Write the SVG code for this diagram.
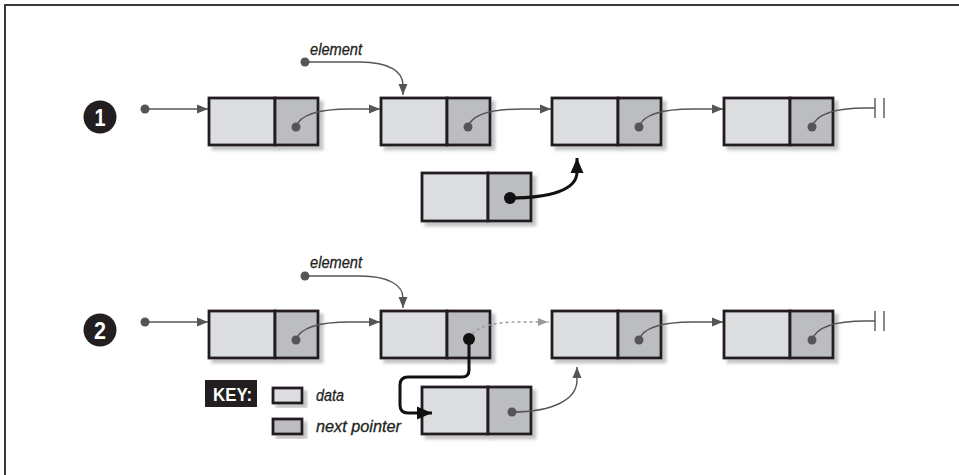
<svg xmlns="http://www.w3.org/2000/svg" width="959" height="475" viewBox="0 0 959 475">
<style>
.data{fill:#dcdddf;stroke:#231f20;stroke-width:2.8}
.ptr{fill:#bcbdc0;stroke:#231f20;stroke-width:2.8}
.frame{stroke:#3a3a3a;stroke-width:2;fill:none}
.con{fill:none;stroke:#555;stroke-width:1.4}
.dash{fill:none;stroke:#9a9a9a;stroke-width:1.4;stroke-dasharray:3 3}
.bold{fill:none;stroke:#111;stroke-width:3}
.dot{fill:#555}
.bdot{fill:#111}
.lbl{font-family:"Liberation Sans",Arial,sans-serif;font-style:italic;font-size:16px;fill:#231f20;stroke:#231f20;stroke-width:0.3}
.num{font-family:"Liberation Sans",Arial,sans-serif;font-weight:bold;font-size:24px;fill:#fff}
.key{font-family:"Liberation Sans",Arial,sans-serif;font-weight:bold;font-size:18px;fill:#fff}
</style>
<defs>
<filter id="sh" x="-10%" y="-20%" width="130%" height="150%">
<feDropShadow dx="4" dy="4" stdDeviation="1.8" flood-color="#8a8a8a" flood-opacity="0.5"/>
</filter>
<marker id="ag" markerUnits="userSpaceOnUse" markerWidth="12" markerHeight="10" refX="11" refY="5" orient="auto">
<path d="M0,0.5 L11,5 L0,9.5 Z" fill="#555"/>
</marker>
<marker id="al" markerUnits="userSpaceOnUse" markerWidth="12" markerHeight="10" refX="11" refY="5" orient="auto">
<path d="M0,1 L10,5 L0,9 Z" fill="#9a9a9a"/>
</marker>
<marker id="ab" markerUnits="userSpaceOnUse" markerWidth="16" markerHeight="14" refX="15" refY="7" orient="auto">
<path d="M0,0.5 L15,7 L0,13.5 Z" fill="#111"/>
</marker>
</defs>
<rect width="959" height="475" fill="#fff"/>
<path class="frame" d="M5,475 L5,5 L959,5"/>

<!-- step markers -->
<g id="step1"><circle cx="100" cy="117" r="16.5" fill="#231f20"/><text class="num" x="100" y="126" text-anchor="middle" textLength="11" lengthAdjust="spacingAndGlyphs">1</text></g>
<g id="step2"><circle cx="100" cy="330" r="16.5" fill="#231f20"/><text class="num" x="100" y="339" text-anchor="middle" textLength="12" lengthAdjust="spacingAndGlyphs">2</text></g>

<!-- row 1 nodes -->
<g id="r1n1" filter="url(#sh)"><rect class="data" x="209" y="98" width="66" height="47"/><rect class="ptr" x="275" y="98" width="43" height="47"/></g>
<g id="r1n2" filter="url(#sh)"><rect class="data" x="381" y="98" width="66" height="47"/><rect class="ptr" x="447" y="98" width="43" height="47"/></g>
<g id="r1n3" filter="url(#sh)"><rect class="data" x="552" y="98" width="66" height="47"/><rect class="ptr" x="618" y="98" width="43" height="47"/></g>
<g id="r1n4" filter="url(#sh)"><rect class="data" x="724" y="98" width="66" height="47"/><rect class="ptr" x="790" y="98" width="43" height="47"/></g>
<g id="r1new" filter="url(#sh)"><rect class="data" x="422" y="173" width="66" height="48"/><rect class="ptr" x="488" y="173" width="43" height="48"/></g>
<g id="r1elem"><text class="lbl" x="310" y="55" textLength="52" lengthAdjust="spacingAndGlyphs">element</text></g>

<!-- row 2 nodes -->
<g id="r2n1" filter="url(#sh)"><rect class="data" x="209" y="311" width="66" height="47"/><rect class="ptr" x="275" y="311" width="43" height="47"/></g>
<g id="r2n2" filter="url(#sh)"><rect class="data" x="381" y="311" width="66" height="47"/><rect class="ptr" x="447" y="311" width="43" height="47"/></g>
<g id="r2n3" filter="url(#sh)"><rect class="data" x="552" y="311" width="66" height="47"/><rect class="ptr" x="618" y="311" width="43" height="47"/></g>
<g id="r2n4" filter="url(#sh)"><rect class="data" x="724" y="311" width="66" height="47"/><rect class="ptr" x="790" y="311" width="43" height="47"/></g>
<g id="r2new" filter="url(#sh)"><rect class="data" x="422" y="387" width="66" height="47"/><rect class="ptr" x="488" y="387" width="43" height="47"/></g>
<g id="r2elem"><text class="lbl" x="310" y="268" textLength="52" lengthAdjust="spacingAndGlyphs">element</text></g>

<!-- key -->
<g id="key">
<rect x="205" y="380" width="52" height="27" fill="#231f20"/>
<text class="key" x="213" y="401" textLength="39" lengthAdjust="spacingAndGlyphs">KEY:</text>
<rect class="data" x="273" y="388" width="29" height="15" filter="url(#sh)" stroke-width="2"/>
<text class="lbl" x="316" y="401" textLength="28" lengthAdjust="spacingAndGlyphs">data</text>
<rect class="ptr" x="273" y="419" width="29" height="15" filter="url(#sh)" stroke-width="2"/>
<text class="lbl" x="316" y="432" textLength="85" lengthAdjust="spacingAndGlyphs">next pointer</text>
</g>

<!-- connectors -->
<g id="connectors">
<!-- row 1 -->
<circle class="dot" cx="145" cy="109" r="4.5"/>
<path class="con" d="M145,109 L208,109" marker-end="url(#ag)"/>
<circle class="dot" cx="305" cy="62" r="4.5"/>
<path class="con" d="M305,62 L360,62 C390,62 403,72 403,85 L403,95" marker-end="url(#ag)"/>
<circle class="dot" cx="296" cy="127" r="4.5"/>
<path class="con" d="M296,127 C300,114 320,109 350,109 L380,109" marker-end="url(#ag)"/>
<circle class="dot" cx="468" cy="127" r="4.5"/>
<path class="con" d="M468,127 C472,114 492,109 522,109 L551,109" marker-end="url(#ag)"/>
<circle class="dot" cx="639" cy="127" r="4.5"/>
<path class="con" d="M639,127 C643,114 663,109 693,109 L723,109" marker-end="url(#ag)"/>
<circle class="dot" cx="812" cy="127" r="4.5"/>
<path class="con" d="M812,127 C816,114 836,108 866,108 L875,108"/>
<path class="con" d="M875,98 L875,118 M884,98 L884,118"/>
<circle class="bdot" cx="510" cy="198" r="6"/>
<path class="bold" d="M510,198 C550,198 577,190 577,172 L577,158" marker-end="url(#ab)"/>
<!-- row 2 -->
<circle class="dot" cx="145" cy="322" r="4.5"/>
<path class="con" d="M145,322 L208,322" marker-end="url(#ag)"/>
<circle class="dot" cx="305" cy="276" r="4.5"/>
<path class="con" d="M305,276 L360,276 C390,276 403,286 403,298 L403,308" marker-end="url(#ag)"/>
<circle class="dot" cx="296" cy="340" r="4.5"/>
<path class="con" d="M296,340 C300,327 320,322 350,322 L380,322" marker-end="url(#ag)"/>
<path class="dash" d="M469,339 C474,327 492,322 520,322 L549,322" marker-end="url(#al)"/>
<circle class="dot" cx="639" cy="340" r="4.5"/>
<path class="con" d="M639,340 C643,327 663,322 693,322 L723,322" marker-end="url(#ag)"/>
<circle class="dot" cx="812" cy="340" r="4.5"/>
<path class="con" d="M812,340 C816,327 836,321 866,321 L875,321"/>
<path class="con" d="M875,311 L875,331 M884,311 L884,331"/>
<path class="bold" d="M469,339 L469,370 Q469,377 462,377 L408,377 Q400,377 400,385 L400,405 Q400,413 408,413 L432,413" marker-end="url(#ab)"/>
<circle class="bdot" cx="469" cy="339" r="6"/>
<circle class="dot" cx="512" cy="412" r="4.5"/>
<path class="con" d="M512,412 C552,412 577,400 577,380 L577,367" marker-end="url(#ag)"/>
</g>
</svg>
